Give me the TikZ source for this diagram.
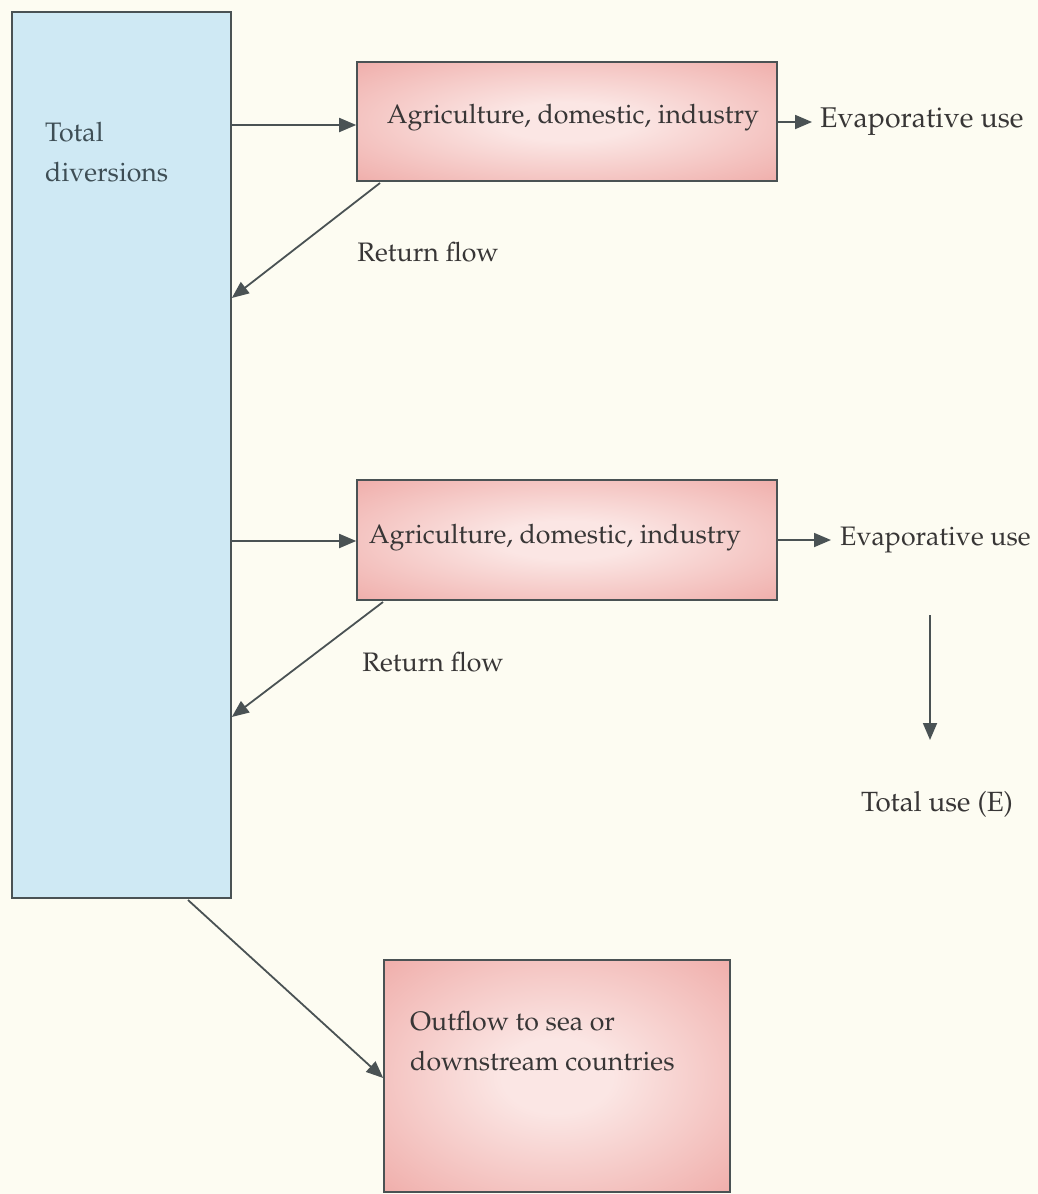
\documentclass[tikz,border=0pt]{standalone}
\usepackage[T1]{fontenc}
\usepackage{mathpazo}
\usetikzlibrary{arrows.meta}
\definecolor{bg}{HTML}{FDFCF2}
\definecolor{bluefill}{HTML}{CFE9F4}
\definecolor{edge}{HTML}{4A5254}
\definecolor{pinkedge}{HTML}{E98E8A}
\definecolor{pinkmid}{HTML}{FBE6E4}
\definecolor{txt}{HTML}{383636}
\definecolor{bluetxt}{HTML}{3E4E55}
\pgfdeclareradialshading{pinkglow}{\pgfpoint{0bp}{0bp}}{%
  color(0bp)=(pinkmid); color(8bp)=(pinkmid); color(32bp)=(pinkedge!55!pinkmid); color(50bp)=(pinkedge); color(100bp)=(pinkedge)}
\tikzset{
  flow/.style={draw=edge, line width=1.8pt, -{Triangle[length=17pt,width=14pt]}},
  pinkbox/.style={draw=edge, line width=1.6pt, rectangle, inner sep=0pt, shading=pinkglow},
  bluebox/.style={draw=edge, line width=1.6pt, fill=bluefill, rectangle, inner sep=0pt},
  lbl/.style={font=\fontsize{26.7}{40}\selectfont, text=txt, inner sep=0pt},
}
\begin{document}
\begin{tikzpicture}[x=1pt,y=-1pt]
\fill[bg] (0,0) rectangle (1038,1194);
\useasboundingbox (0,0) rectangle (1038,1194);
% boxes
\node[bluebox, minimum width=219pt, minimum height=886pt] (tot) at (121.5,455) {};
\node[lbl, text=bluetxt, anchor=west, align=left] (totl) at (45,152) {Total\\diversions};
\node[pinkbox, minimum width=420pt, minimum height=119pt] (a1) at (567,121.5) {};
\node[lbl] (a1l) at (573,118) {Agriculture, domestic, industry};
\node[pinkbox, minimum width=420pt, minimum height=120pt] (a2) at (567,540) {};
\node[lbl] (a2l) at (555,538) {Agriculture, domestic, industry};
\node[pinkbox, minimum width=346pt, minimum height=232pt] (out) at (557,1076) {};
\node[lbl, anchor=west, align=left] (outl) at (410,1041) {Outflow to sea or\\downstream countries};
% labels
\node[lbl, font=\fontsize{28.5}{40}\selectfont, anchor=west] (ev1) at (820,122) {Evaporative use};
\node[lbl, anchor=west] (ev2) at (840,540) {Evaporative use};
\node[lbl] (rf1) at (428,252) {Return flow};
\node[lbl] (rf2) at (433,662) {Return flow};
\node[lbl, font=\fontsize{27.8}{40}\selectfont] (te) at (937,804) {Total use (E)};
% coordinates
\coordinate (tot1) at (tot.east |- 0,125);
\coordinate (tot2) at (tot.east |- 0,541);
\coordinate (r1s) at (380,183);
\coordinate (r1e) at (tot.east |- 0,298);
\coordinate (r2s) at (383,602);
\coordinate (r2e) at (tot.east |- 0,717);
\coordinate (os) at (188,900);
\coordinate (ds) at (930,615);
\coordinate (de) at (930,740);
% connectors
\draw[flow] (tot1) -- (a1.west |- tot1);
\draw[flow] (tot2) -- (a2.west |- tot2);
\draw[flow, shorten >=8pt] (a1.east |- ev1) -- (ev1.west);
\draw[flow, shorten >=9pt] (a2.east |- ev2) -- (ev2.west);
\draw[flow] (r1s) -- (r1e);
\draw[flow] (r2s) -- (r2e);
\draw[flow] (os) -- (out.west |- 0,1078);
\draw[flow] (ds) -- (de);
\end{tikzpicture}
\end{document}
